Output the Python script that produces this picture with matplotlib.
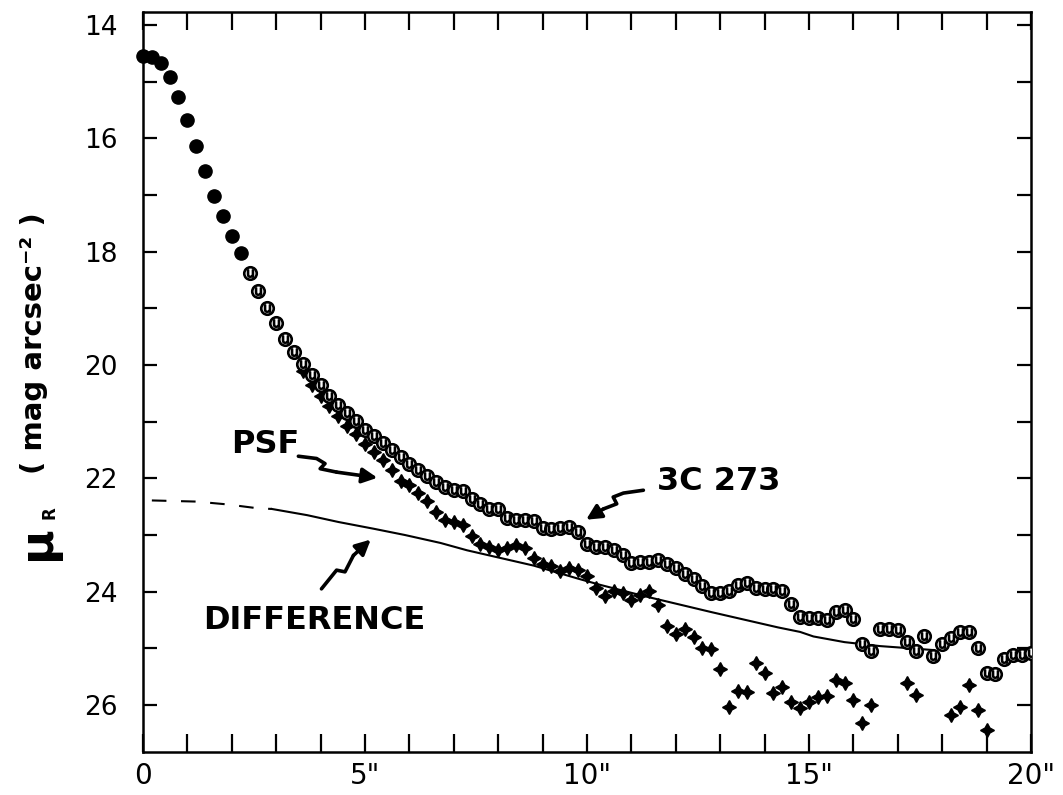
import matplotlib
matplotlib.use("Agg")
import matplotlib.pyplot as plt
from matplotlib.ticker import MultipleLocator

# --- data (radius in arcsec, mu_R in mag/arcsec^2) ---
core_r = [0.0, 0.2, 0.4, 0.6, 0.8, 1.0, 1.2, 1.4, 1.6, 1.8, 2.0, 2.2]
core_mu = [14.54, 14.57, 14.68, 14.91, 15.27, 15.68, 16.14, 16.58, 17.01, 17.37,
           17.73, 18.02]

qso_r = [2.4, 2.6, 2.8, 3.0, 3.2, 3.4, 3.6, 3.8, 4.0, 4.2, 4.4, 4.6, 4.8, 5.0,
         5.2, 5.4, 5.6, 5.8, 6.0, 6.2, 6.4, 6.6, 6.8, 7.0, 7.2, 7.4, 7.6, 7.8,
         8.0, 8.2, 8.4, 8.6, 8.8, 9.0, 9.2, 9.4, 9.6, 9.8, 10.0, 10.2, 10.4,
         10.6, 10.8, 11.0, 11.2, 11.4, 11.6, 11.8, 12.0, 12.2, 12.4, 12.6, 12.8,
         13.0, 13.2, 13.4, 13.6, 13.8, 14.0, 14.2, 14.4, 14.6, 14.8, 15.0, 15.2,
         15.4, 15.6, 15.8, 16.0, 16.2, 16.4, 16.6, 16.8, 17.0, 17.2, 17.4, 17.6,
         17.8, 18.0, 18.2, 18.4, 18.6, 18.8, 19.0, 19.2, 19.4, 19.6, 19.8, 20.0]
qso_mu = [18.38, 18.69, 18.99, 19.26, 19.54, 19.77, 19.98, 20.18, 20.36, 20.54,
          20.70, 20.85, 20.99, 21.14, 21.25, 21.38, 21.50, 21.63, 21.74, 21.86,
          21.95, 22.06, 22.16, 22.20, 22.23, 22.36, 22.45, 22.54, 22.54, 22.70,
          22.73, 22.73, 22.75, 22.87, 22.89, 22.87, 22.86, 22.94, 23.16, 23.22,
          23.22, 23.26, 23.36, 23.49, 23.48, 23.48, 23.44, 23.51, 23.59, 23.68,
          23.77, 23.90, 24.03, 24.02, 23.98, 23.88, 23.85, 23.94, 23.95, 23.95,
          23.98, 24.22, 24.44, 24.47, 24.47, 24.50, 24.36, 24.33, 24.48, 24.92,
          25.04, 24.66, 24.66, 24.68, 24.89, 25.04, 24.79, 25.14, 24.92, 24.81,
          24.72, 24.72, 24.99, 25.43, 25.46, 25.19, 25.12, 25.12, 25.09]

psf_r = [3.6, 3.8, 4.0, 4.2, 4.4, 4.6, 4.8, 5.0, 5.2, 5.4, 5.6, 5.8, 6.0, 6.2,
         6.4, 6.6, 6.8, 7.0, 7.2, 7.4, 7.6, 7.8, 8.0, 8.2, 8.4, 8.6, 8.8, 9.0,
         9.2, 9.4, 9.6, 9.8, 10.0, 10.2, 10.4, 10.6, 10.8, 11.0, 11.2, 11.4,
         11.6, 11.8, 12.0, 12.2, 12.4, 12.6, 12.8, 13.0, 13.2, 13.4, 13.6, 13.8,
         14.0, 14.2, 14.4, 14.6, 14.8, 15.0, 15.2, 15.4, 15.6, 15.8, 16.0, 16.2,
         16.4, 17.2, 17.4, 18.2, 18.4, 18.6, 18.8, 19.0]
psf_mu = [20.10, 20.35, 20.55, 20.73, 20.90, 21.08, 21.22, 21.39, 21.54, 21.68,
          21.85, 22.04, 22.12, 22.25, 22.40, 22.60, 22.74, 22.77, 22.83, 23.02,
          23.15, 23.22, 23.27, 23.23, 23.17, 23.23, 23.41, 23.51, 23.54, 23.64,
          23.59, 23.61, 23.72, 23.93, 24.08, 23.99, 24.02, 24.14, 24.05, 23.98,
          24.24, 24.61, 24.74, 24.65, 24.80, 24.99, 25.02, 25.36, 26.03, 25.76,
          25.77, 25.26, 25.44, 25.78, 25.68, 25.95, 26.05, 25.95, 25.85, 25.84,
          25.56, 25.61, 25.92, 26.31, 26.00, 25.61, 25.82, 26.18, 26.03, 25.65,
          26.09, 26.44]

# difference profile: dashed inside 2.9", solid outside
diff_r = [0.2, 1.2, 1.9, 2.6, 2.9, 3.7, 4.4, 5.2, 5.9, 6.7, 7.3, 8.8, 9.8, 10.3,
          11.3, 12.8, 14.3, 14.8, 15.1, 15.8, 16.6, 17.3, 17.8]
diff_mu = [22.39, 22.41, 22.46, 22.53, 22.54, 22.65, 22.77, 22.89, 23.00, 23.14,
           23.27, 23.54, 23.77, 23.88, 24.08, 24.36, 24.63, 24.71, 24.79, 24.89,
           24.96, 25.00, 25.03]
n_dash = 5

xtick_vals = [0, 5, 10, 15, 20]
xtick_text = ['0', '5"', '10"', '15"', '20"']
ytick_vals = [14, 16, 18, 20, 22, 24, 26]


def bolt(ax, pts):
    # squiggly pointer ending in an arrow head
    xs = [p[0] for p in pts[:-1]]
    ys = [p[1] for p in pts[:-1]]
    ax.plot(xs, ys, color='k', lw=2.6, solid_capstyle='round',
            solid_joinstyle='round', zorder=5)
    ax.annotate('', xy=pts[-1], xytext=pts[-2],
                arrowprops=dict(arrowstyle='-|>,head_length=0.9,head_width=0.45',
                                lw=2.6, color='k', shrinkA=0, shrinkB=0),
                zorder=5)


fig = plt.figure(figsize=(10.63, 7.95), dpi=100)
ax = fig.add_axes([0.1345, 0.054, 0.8354, 0.931])

ax.plot(diff_r[:n_dash], diff_mu[:n_dash], color='k', lw=1.5, ls=(0, (7, 7)))
ax.plot(diff_r[n_dash - 1:], diff_mu[n_dash - 1:], color='k', lw=1.5)

ax.plot(psf_r, psf_mu, ls='none', marker=(4, 1, 0), ms=10, color='k', zorder=3)

ax.plot(qso_r, qso_mu, ls='none', marker='o', ms=9, mfc='white', mec='k',
        mew=1.9, zorder=4)
ax.plot(qso_r, qso_mu, ls='none', marker='$\\mathsf{u}$', ms=5.5, color='k',
        zorder=4)

ax.plot(core_r, core_mu, ls='none', marker='o', ms=9.5, color='k', zorder=4,
        clip_on=False)

ax.set_xlim(0, 20)
ax.set_ylim(26.83, 13.77)
ax.set_xticks(xtick_vals)
ax.set_xticklabels(xtick_text)
ax.set_yticks(ytick_vals)
ax.xaxis.set_minor_locator(MultipleLocator(1))
ax.yaxis.set_minor_locator(MultipleLocator(1))
ax.tick_params(which='both', direction='in', top=True, right=True, width=1.6)
ax.tick_params(axis='x', which='both', length=13, labelsize=20, pad=7)
ax.tick_params(axis='y', which='both', length=10, labelsize=19, pad=18)
for s in ax.spines.values():
    s.set_linewidth(1.8)

# labels and pointers
ax.text(2.75, 21.40, 'PSF', ha='center', va='center', size=23, weight='bold')
ax.text(12.97, 22.05, '3C 273', ha='center', va='center', size=23, weight='bold')
ax.text(3.85, 24.50, 'DIFFERENCE', ha='center', va='center', size=23,
        weight='bold')

bolt(ax, [(3.50, 21.61), (3.91, 21.65), (4.10, 21.74), (3.99, 21.83),
          (4.36, 21.89), (5.28, 21.99)])
bolt(ax, [(4.02, 23.95), (4.36, 23.62), (4.55, 23.65), (4.74, 23.36),
          (5.13, 23.08)])
bolt(ax, [(11.27, 22.21), (10.82, 22.26), (10.59, 22.33), (10.67, 22.45),
          (10.37, 22.54), (9.98, 22.73)])

# y axis label
fig.text(37 / 1063, 1 - 543 / 795, 'μ', rotation=90, size=34, weight='bold',
         ha='center', va='center')
fig.text(50 / 1063, 1 - 513 / 795, 'R', rotation=90, size=12, weight='bold',
         ha='center', va='center')
fig.text(34 / 1063, 1 - 343 / 795, '( mag arcsec⁻² )', rotation=90, size=21,
         weight='bold', ha='center', va='center')

fig.savefig('out.png', dpi=100)
